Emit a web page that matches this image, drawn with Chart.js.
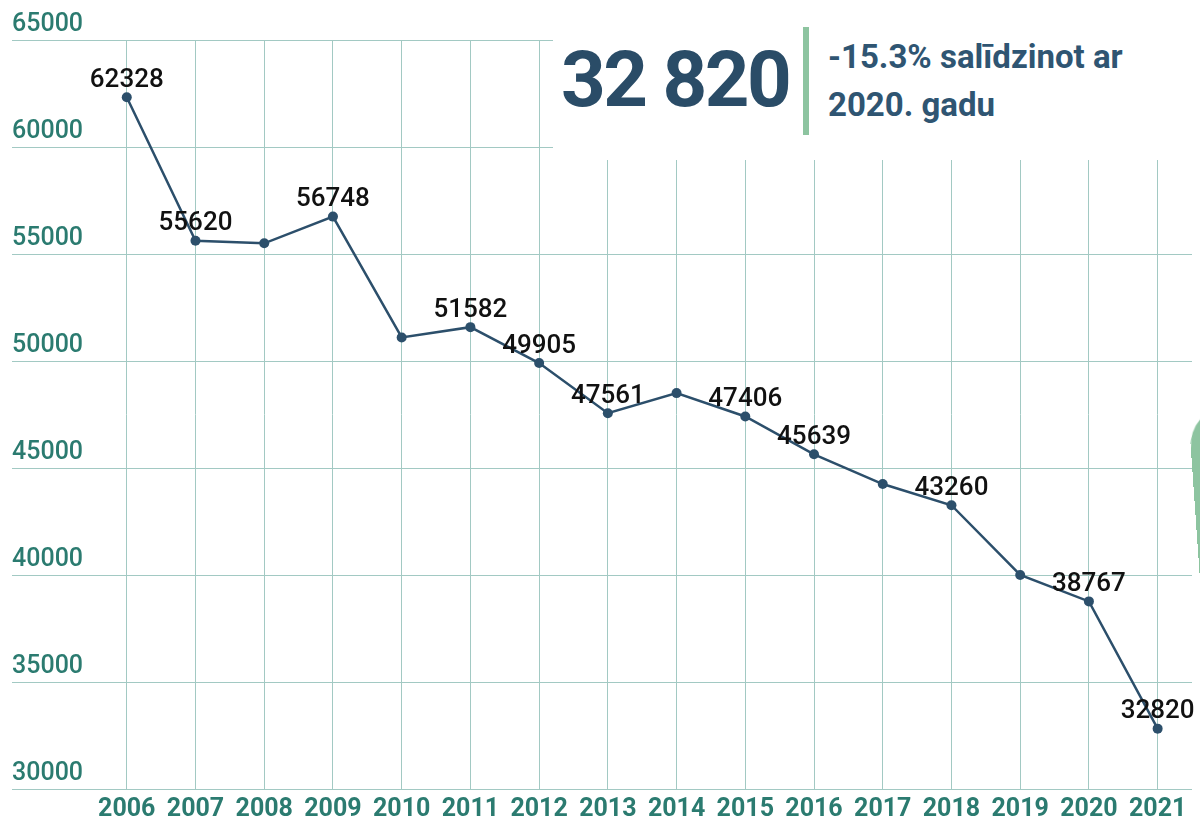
<!DOCTYPE html>
<html lang="lv">
<head>
<meta charset="utf-8">
<title>32 820</title>
<script src="https://cdn.jsdelivr.net/npm/chart.js@4/dist/chart.umd.min.js"></script>
<style>
    body { margin: 0; background: #fff; font-family: Roboto, sans-serif; }
    .wrap { position: relative; width: 1200px; height: 822px; overflow: hidden; }
    .box { position: absolute; left: 553px; top: 0; width: 647px; height: 160px; background: #fff; }
    .big { position: absolute; left: 8px; top: 30px; font-size: 78px; font-weight: 700; color: #2a4c67; letter-spacing: -2.5px; line-height: 100px; }
    .bar { position: absolute; left: 250px; top: 27px; width: 6px; height: 108px; background: #8dc4a0; }
    .note { position: absolute; left: 275px; top: 33px; font-size: 33px; font-weight: 700; color: #2f5572; line-height: 48px; letter-spacing: 0; }
    .blob { position: absolute; left: 1188px; top: 408px; width: 90px; height: 260px; background: #8dc4a0; border-radius: 40px 0 0 0; transform: rotate(-4deg); transform-origin: top left; }
</style>
</head>
<body>
<div class="wrap">
    <canvas id="cases" width="1200" height="822"></canvas>
    <div class="box">
        <div class="big">32 820</div>
        <div class="bar"></div>
        <div class="note">-15.3% salīdzinot ar<br>2020. gadu</div>
    </div>
    <div class="blob"></div>
</div>
<script>
const years = [2006, 2007, 2008, 2009, 2010, 2011, 2012, 2013, 2014, 2015, 2016, 2017, 2018, 2019, 2020, 2021];
const values = [62328, 55620, 55500, 56748, 51100, 51582, 49905, 47561, 48500, 47406, 45639, 44250, 43260, 40000, 38767, 32820];
// which points get a number over them
const labelled = [2006, 2007, 2009, 2011, 2012, 2013, 2015, 2016, 2018, 2020, 2021];
const yTicks = [30000, 35000, 40000, 45000, 50000, 55000, 60000, 65000];

const gridColor = '#a2c9c3';
const tickColor = '#2b7b70';

/*numbers above points*/
const pointLabels = {
    id: 'pointLabels',
    afterDatasetsDraw(chart) {
        const ctx = chart.ctx;
        const meta = chart.getDatasetMeta(0);
        ctx.save();
        ctx.font = '500 26px Roboto';
        ctx.fillStyle = '#111';
        ctx.textAlign = 'center';
        ctx.textBaseline = 'middle';
        meta.data.forEach((p, i) => {
            if (labelled.includes(years[i])) {
                ctx.fillText(values[i], p.x, p.y - 17);
            }
        });
        ctx.restore();
    }
};

const ctx1 = document.getElementById('cases').getContext('2d');
const chartCases = new Chart(ctx1, {
    type: 'line',
    data: {
        datasets: [{
            data: years.map((y, i) => ({x: y, y: values[i]})),
            borderColor: '#2c4f6b',
            borderWidth: 2.5,
            pointRadius: 5,
            pointBackgroundColor: '#2c4f6b',
            pointBorderWidth: 0,
            tension: 0
        }]
    },
    options: {
        responsive: false,
        animation: false,
        layout: {
            padding: {top: 40, left: 12, right: 8, bottom: 0}
        },
        scales: {
            x: {
                type: 'linear',
                min: 2004.33,
                max: 2021.5,
                afterBuildTicks: s => { s.ticks = years.map(v => ({value: v})); },
                afterFit: s => { s.height = 33; },
                grid: {color: gridColor, drawTicks: false},
                border: {display: false},
                ticks: {
                    color: tickColor,
                    font: {family: 'Roboto', size: 25, weight: 'bold', lineHeight: 1},
                    padding: 8,
                    maxRotation: 0,
                    autoSkip: false,
                    callback: v => String(v)
                }
            },
            y: {
                min: 30000,
                max: 65000,
                afterBuildTicks: s => { s.ticks = yTicks.map(v => ({value: v})); },
                grid: {color: gridColor, drawTicks: false},
                border: {display: false},
                ticks: {
                    mirror: true,
                    padding: 0,
                    labelOffset: -15,
                    color: tickColor,
                    font: {family: 'Roboto', size: 25, weight: '500'},
                    callback: v => String(v)
                }
            }
        },
        plugins: {
            legend: {display: false},
            tooltip: {enabled: false}
        }
    },
    plugins: [pointLabels]
});
</script>
</body>
</html>
